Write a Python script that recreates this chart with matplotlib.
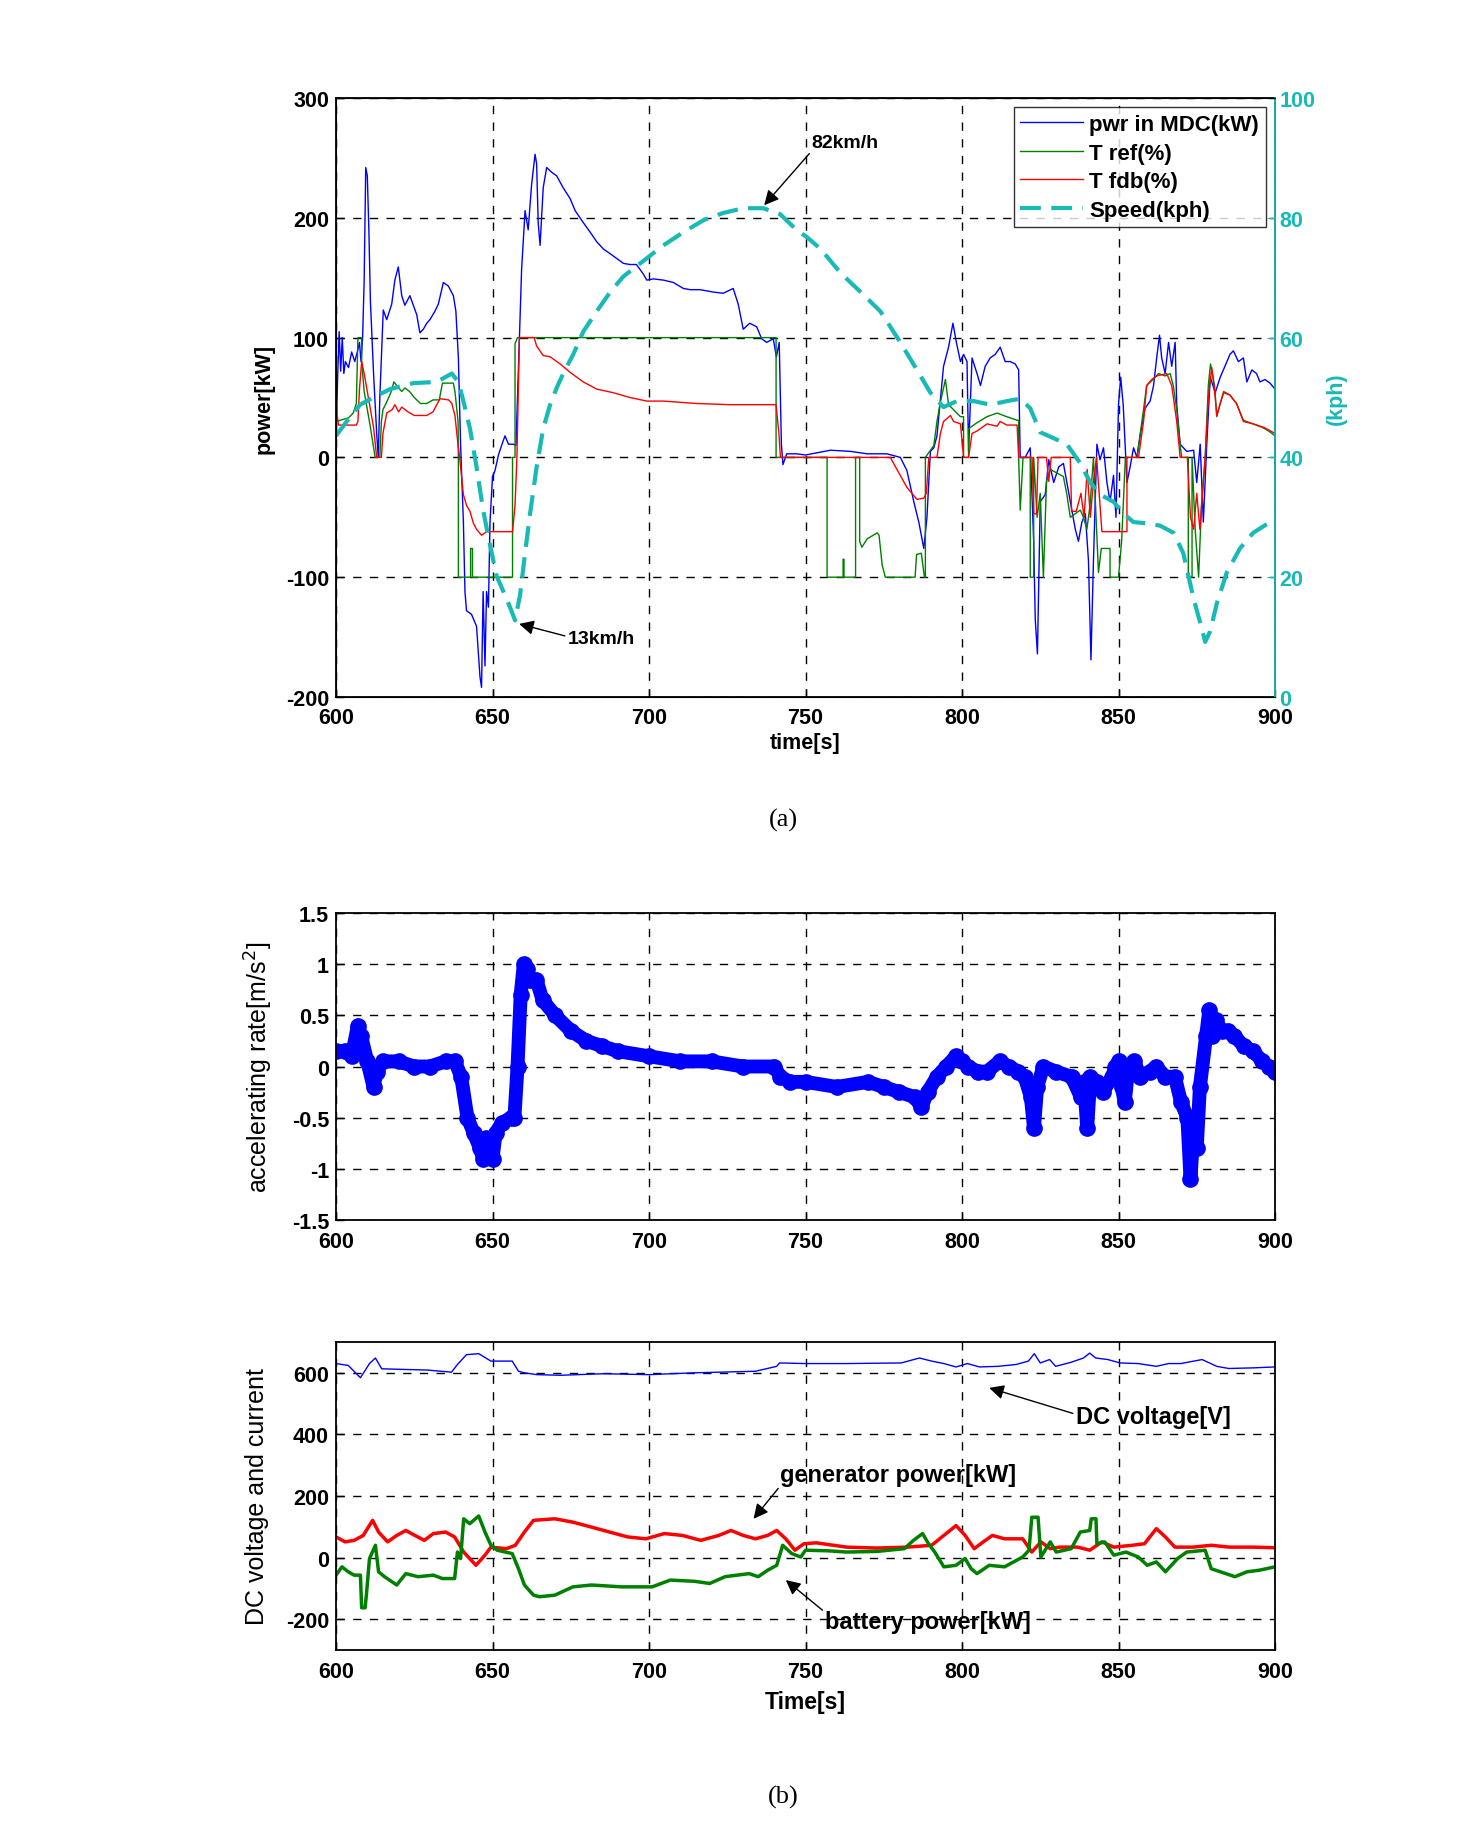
import matplotlib
matplotlib.use("Agg")
import matplotlib.pyplot as plt

plt.rcParams['font.family'] = ['Liberation Sans', 'DejaVu Sans']
plt.rcParams['axes.unicode_minus'] = False

# ================= data: panel (a) — (time [s], value) pairs =================
pwr_pts = [(600, 10), (600.5, 65), (601, 105), (601.5, 72), (602, 100), (602.5, 70), (603, 80), (604, 75),
           (605, 88), (606, 80), (607, 90), (607.5, 96), (608, 80), (608.5, 100), (609, 148), (609.5, 242),
           (610, 235), (610.5, 190), (611, 130), (612, 70), (613, 20), (613.5, 0), (614, 50), (615.1, 123),
           (616.2, 115), (617.8, 128), (618.8, 148), (619.9, 159), (621, 135), (622, 127), (623.6, 135),
           (624.7, 127), (625.8, 119), (626.8, 104), (627.9, 107), (629, 112), (630, 115), (631.6, 122),
           (632.7, 128), (634.3, 146), (635.9, 143), (637.5, 135), (638.3, 122), (639.1, 83), (639.8, 11),
           (640.7, -54), (641.2, -112), (641.7, -128), (643.3, -131), (644.9, -141), (646, -183), (646.5, -192),
           (647, -112), (647.6, -174), (648.1, -112), (648.7, -125), (649.2, -54), (650, -16), (650.8, -11),
           (651.9, 2), (652.9, 10), (654, 18), (655.1, 11), (656.7, 11), (657.5, 10), (658.3, 76), (659.3, 157),
           (660.4, 206), (661.4, 190), (662.5, 228), (663.6, 253), (664.1, 245), (664.6, 196), (665.2, 177),
           (666.2, 225), (667.3, 242), (668.9, 238), (670.5, 235), (672.6, 225), (674.8, 216), (676.4, 206),
           (679, 196), (681.2, 188), (683.3, 180), (685.4, 174), (687.6, 170), (689.7, 166), (691.8, 162),
           (693.9, 161), (696, 161), (698.2, 153), (699.3, 148), (701.4, 149), (704.6, 148), (707.8, 146),
           (711, 141), (713.2, 140), (716.3, 140), (720.6, 138), (723.7, 137), (726.9, 141), (728.5, 128),
           (730.1, 107), (732.2, 112), (734.4, 109), (736, 99), (737.6, 96), (739.7, 99), (740.7, 84),
           (741.6, 96), (742.3, 11), (742.8, -6), (744, 3), (747.1, 3), (750, 2), (758, 6), (764.4, 5),
           (769.7, 3), (776, 3), (780.3, 0), (782.4, -11), (784.6, -37), (786.2, -54), (787.8, -76),
           (788.8, -50), (789.9, 5), (791, 8), (792, 18), (794.1, 76), (795.7, 92), (797.1, 112), (798.2, 96),
           (799.5, 80), (800.5, 86), (801.6, 80), (802.1, 5), (803.2, 83), (804.8, 70), (805.9, 60),
           (807.4, 76), (809, 83), (810.6, 86), (812.2, 92), (813.8, 80), (815.4, 80), (817, 78), (818.1, 73),
           (818.6, 0), (820.2, 0), (821.8, 8), (822.9, -70), (823.4, -135), (824.1, -164), (825, -37),
           (826.6, -31), (827.7, -2), (829.3, -21), (830.9, -8), (832.4, -5), (834.6, -37), (836.2, -60),
           (837.2, -70), (838.3, -54), (839.4, -47), (840.4, -86), (841.2, -169), (842, -86), (843.1, 11),
           (844.1, -2), (845.2, 8), (846.3, -21), (847.3, -37), (848.4, -15), (849.2, -50), (850, 44),
           (850.7, 67), (851.5, 44), (852.7, -21), (853.7, -8), (854.8, 8), (855.9, 0), (856.9, 18),
           (858.5, 41), (860.1, 47), (861.2, 60), (862.2, 83), (863.1, 102), (863.8, 83), (864.9, 70),
           (866, 96), (867, 76), (868.1, 96), (868.6, 44), (869.7, 11), (871.8, 5), (874, 6), (875, -21),
           (876.1, 11), (877.1, -54), (878.2, 11), (879.3, 67), (880.9, 54), (882.5, 67), (884, 76),
           (885.6, 86), (886.7, 89), (888.3, 80), (889.9, 83), (891, 63), (892.6, 73), (894.1, 70),
           (895.2, 63), (896.8, 65), (898.4, 62), (900, 57)]

tref_pts = [(600, 30), (604, 33), (605.5, 37), (606.5, 45), (607, 100), (608.2, 100), (608.2, 80), (609, 55),
            (610, 40), (611, 25), (612.5, 0), (614, 0), (614.5, 30), (615, 40), (616, 45), (617.5, 54),
            (618.5, 63), (620, 58), (621, 55), (622, 58), (623.5, 55), (625, 50), (627, 45), (629, 45), (631, 48),
            (633, 48), (634, 62), (636, 62), (637.5, 62), (638, 55), (639, 30), (639.1, 0), (639.1, -100),
            (643, -100), (643, -76), (643.6, -76), (643.6, -100), (656.4, -100), (656.4, 0), (657.2, 0),
            (657.2, 95), (658, 100), (740.6, 100), (740.6, 0), (756.9, 0), (756.9, -100), (762, -100),
            (762, -85), (762.3, -85), (762.3, -100), (766, -100), (766, 0), (767.3, 0), (767.3, -70),
            (768, -75), (769.7, -68), (772.9, -63), (773.5, -65), (774.5, -90), (775.5, -100), (785, -100),
            (785.5, -81), (787, -80), (788, -100), (788.3, -100), (788.3, 0), (791, 10), (792, 30), (793, 45),
            (794.7, 65), (795.7, 44), (799.5, 34), (800.5, 34), (800.5, 0), (802.1, 0), (802.1, 24),
            (804.8, 29), (808, 34), (811.2, 37), (814.3, 34), (817.6, 31), (818.1, 31), (818.1, 0),
            (818.6, -44), (819.5, 0), (821.8, 0), (821.8, -100), (822.9, -100), (822.9, 0), (824, -50),
            (825, -30), (826, -100), (827, -20), (828.2, -10), (832.4, -16), (833.5, -31), (834.6, -50),
            (837.8, -44), (838.8, -50), (839.9, -60), (840.9, -40), (842, 0), (843.6, -96), (844.5, -76),
            (847.3, -76), (847.3, -100), (850, -100), (851, -70), (852.2, 0), (855.9, 0), (858, 40), (859, 60),
            (861, 65), (862.8, 70), (864.9, 68), (866.5, 70), (867.5, 60), (868.6, 40), (869.7, 10),
            (870.2, 0), (872.3, 0), (872.3, -100), (873.5, -100), (873.5, 0), (874.5, -60), (875.6, -100),
            (876.5, -40), (877.7, 0), (878.7, 60), (879.4, 78), (880.7, 60), (881.4, 34), (882.5, 45),
            (883.6, 54), (885.6, 52), (887.7, 45), (889.9, 31), (893, 28), (896, 25), (898, 22), (900, 18)]

tfdb_pts = [(600, 42), (600.8, 27), (602, 27), (606.5, 27), (607, 30), (607.5, 57), (608.2, 80), (609, 70),
            (610, 55), (611, 40), (612, 25), (613, 0), (614.5, 0), (615, 20), (616.2, 37), (618, 40), (618.8, 44),
            (620, 38), (621, 42), (623, 38), (625, 35), (627, 35), (629, 35), (631, 38), (633.2, 49), (636, 48),
            (637, 45), (638, 35), (639, 10), (639.5, 0), (640.7, -31), (641.7, -40), (642.8, -45), (643.9, -55),
            (644.9, -60), (646.5, -65), (648.1, -62), (649.2, -62), (656.4, -62), (657.2, -40), (657.8, 0),
            (658.6, 100), (663.3, 100), (664.1, 93), (666.2, 85), (668.4, 84), (671.6, 78), (674.8, 71),
            (679, 63), (683.3, 57), (688.6, 54), (693.9, 50), (699.3, 47), (704.6, 47), (715.2, 45),
            (725.9, 44), (740.6, 44), (741.5, 20), (742, 0), (777.1, 0), (779.2, -10), (782.4, -25),
            (785.6, -35), (787.8, -34), (788.6, -30), (789.4, 0), (792, 0), (793.1, 20), (794.1, 30),
            (796.3, 35), (797.3, 30), (799.5, 28), (800.5, 0), (802.1, 0), (803.2, 20), (804.8, 22), (808, 28),
            (811.2, 26), (812.2, 30), (814.3, 27), (817.6, 27), (818.1, 0), (822.4, 0), (822.9, -47),
            (823.8, -47), (824.3, 0), (827, 0), (827.7, -20), (828.5, 0), (834.6, 0), (835, -45), (836.5, -45),
            (838, -30), (839, -50), (840, -10), (841, -50), (842, -20), (843, 0), (844.7, -62), (852.7, -62),
            (852.7, 0), (856.4, 0), (858, 30), (859, 60), (860.6, 65), (862.2, 68), (865.4, 70), (867, 60),
            (868.6, 30), (869.7, 0), (872, 0), (873, -50), (874, -60), (875, -30), (876, -60), (877.7, 0),
            (878.7, 50), (879.8, 75), (880.9, 50), (881.4, 35), (882.5, 45), (883.6, 55), (885.6, 52),
            (887.7, 45), (889.9, 30), (893, 28), (896.5, 25), (900, 20)]

spd_pts = [(600, 43.6), (603.4, 46), (607.7, 48.8), (611.9, 50), (617.3, 51.4), (624.7, 52.4), (632.2, 52.6),
           (637, 54), (639.1, 52.6), (640.7, 49.4), (642.8, 44.8), (644.9, 38.4), (647, 31.2), (649.2, 25.4),
           (651.3, 20.2), (653.5, 17.6), (655.6, 15), (657.2, 12.8), (658.8, 17), (660.4, 24), (662, 30.6),
           (664.1, 38.4), (666.2, 44.8), (668.4, 48.8), (670.5, 51.6), (672.6, 54), (675.8, 57.2), (679, 61),
           (683.3, 64.4), (687.6, 67.6), (691.8, 70.2), (698.2, 72.8), (704.6, 75.4), (711, 77.6),
           (717.4, 79.6), (723.7, 80.8), (730.1, 81.6), (736.5, 81.6), (741.9, 80.6), (747.1, 78),
           (750.4, 76.8), (754.8, 74.8), (761.2, 70.8), (767.6, 67.6), (773.9, 64.4), (780.3, 59.2),
           (785.6, 54.6), (789.9, 50.8), (794.1, 48.4), (798.4, 49.4), (803.7, 49.4), (809, 48.8),
           (814.4, 49.4), (818.6, 49.8), (821.8, 48.2), (825, 44.2), (829.3, 43.2), (833.5, 42.2),
           (837.8, 39), (841, 35.8), (844.1, 33.8), (848.4, 32.6), (851.6, 30.6), (854.8, 29.2), (859, 29),
           (863.3, 28.6), (867.6, 27.4), (870.7, 24), (874, 16.4), (876.1, 12.4), (877.7, 9.2), (879.3, 11),
           (881.4, 15.6), (884.6, 20.8), (888.8, 24.8), (893, 27.4), (898.4, 29.2), (900, 29.6)]

# ================= data: acceleration [m/s^2] =================
acc_pts = [(600, 0.15), (603, 0.15), (605, 0.1), (607, 0.4), (608, 0.3), (610, 0.05), (612, -0.2), (613, -0.05),
           (615, 0.05), (620, 0.05), (625, 0.0), (630, 0.0), (635, 0.05), (638, 0.05), (640, -0.1), (642, -0.5),
           (644, -0.65), (646, -0.8), (647, -0.9), (648, -0.7), (649, -0.85), (650, -0.9), (651, -0.65),
           (653, -0.55), (656, -0.5), (657, -0.5), (658, 0.0), (659, 0.7), (660, 1.0), (661, 0.95), (662, 0.85),
           (664, 0.85), (666, 0.65), (670, 0.5), (675, 0.35), (680, 0.25), (685, 0.2), (690, 0.15), (700, 0.1),
           (710, 0.05), (720, 0.05), (730, 0.0), (740, 0.0), (742, -0.1), (745, -0.15), (750, -0.15),
           (760, -0.2), (770, -0.15), (775, -0.2), (780, -0.25), (785, -0.3), (787, -0.4), (789, -0.25),
           (792, -0.1), (795, 0.0), (798, 0.1), (800, 0.05), (802, 0.0), (805, -0.05), (808, -0.05),
           (812, 0.05), (815, 0.0), (818, -0.05), (820, -0.1), (822, -0.3), (823, -0.6), (824, -0.2),
           (826, 0.0), (830, -0.05), (835, -0.1), (838, -0.3), (839, -0.15), (840, -0.6), (841, -0.1),
           (843, -0.15), (845, -0.25), (848, -0.1), (849, 0.0), (850, 0.05), (851, -0.2), (852, -0.35),
           (853, -0.05), (855, 0.05), (857, -0.1), (860, -0.05), (862, 0.0), (865, -0.1), (868, -0.1),
           (870, -0.35), (872, -0.5), (873, -1.1), (874, -0.6), (875, -0.8), (876, -0.2), (878, 0.3),
           (879, 0.55), (880, 0.3), (881, 0.45), (883, 0.35), (885, 0.35), (887, 0.3), (890, 0.2),
           (893, 0.15), (896, 0.05), (898, 0.0), (900, -0.05)]

# ================= data: DC bus =================
dcv_pts = [(600, 630), (603.9, 624), (607.8, 584), (610.7, 630), (612.6, 648), (614.6, 613), (621.4, 611),
           (629.1, 609), (636.9, 602), (638.8, 627), (641.7, 659), (645.6, 662), (649.5, 638), (656.3, 638),
           (658.3, 605), (660.2, 600), (664.1, 594), (671.8, 592), (685.4, 597), (700, 594), (714.6, 600),
           (734, 605), (740.8, 621), (741.7, 632), (750, 630), (763.1, 630), (780.6, 632), (786.4, 648),
           (790.3, 638), (794.2, 630), (798.1, 619), (801.7, 630), (805.6, 619), (811.5, 621), (817.3, 627),
           (821.2, 638), (823.1, 662), (825, 632), (828, 643), (829.9, 621), (834.8, 634), (838.8, 648),
           (840.8, 664), (842.7, 648), (846.6, 643), (850.5, 632), (856.3, 630), (862.1, 621), (866, 630),
           (869.9, 630), (876.7, 643), (881.4, 621), (885.2, 614), (893, 616), (900, 619)]

gen_pts = [(600, 67), (602.9, 51), (605.8, 56), (608.7, 72), (611.7, 121), (613.6, 83), (616.5, 51), (619.4, 72),
           (622.3, 88), (625.2, 72), (628.2, 56), (631.1, 78), (635, 83), (637.9, 67), (640.8, 18),
           (644.7, -25), (647.6, 8), (649.5, 34), (654.4, 29), (657.3, 40), (660.2, 83), (663.1, 121),
           (669.9, 126), (675.7, 115), (681.6, 99), (687.4, 83), (693.2, 67), (699, 61), (704.9, 78),
           (710.7, 72), (716.5, 56), (722.3, 72), (726.2, 88), (730.1, 72), (734, 61), (737.9, 72), (740.8, 88),
           (743.7, 61), (746.6, 24), (749.5, 45), (753.4, 48), (763.1, 34), (772.8, 31), (782.5, 34),
           (790.3, 40), (794.2, 72), (798.1, 104), (801, 72), (803.9, 29), (806.8, 51), (809.7, 72),
           (813.6, 61), (819.4, 61), (822.3, 18), (825.2, 51), (828.2, 29), (831.1, 34), (836.9, 34),
           (840.8, 24), (844.7, 51), (848.5, 34), (854.4, 40), (858.3, 45), (862.1, 94), (865, 67), (868, 34),
           (873.8, 34), (879.6, 40), (885.4, 34), (893, 34), (900, 32)]

bat_pts = [(600, -57), (601.9, -30), (603.9, -46), (605.8, -57), (607.8, -57), (608.2, -163), (609.3, -163),
           (609.7, -122), (610.7, -3), (612.6, 40), (613.6, -46), (615.5, -62), (619.4, -89), (622.3, -52),
           (626.2, -62), (631.1, -57), (634, -68), (637.9, -68), (638.8, 18), (639.8, -3), (640.8, 126),
           (642.7, 110), (645.6, 135), (647.6, 83), (649.5, 40), (651.5, 24), (656.3, 13), (658.3, -36),
           (660.2, -89), (663.1, -122), (665, -127), (669.9, -122), (675.7, -95), (681.6, -89), (691.3, -95),
           (701, -95), (706.8, -73), (714.6, -77), (719.4, -84), (724.3, -62), (732, -52), (734.9, -62),
           (737.9, -41), (740.8, -25), (742.7, 40), (745.6, 13), (748.5, 2), (750, 24), (757.4, 22),
           (763.1, 18), (772.8, 20), (781.6, 29), (784.5, 56), (787.4, 78), (789.3, 45), (791.3, 18),
           (794.2, -30), (798.1, -25), (801, -3), (802.9, -36), (804.8, -52), (808.7, -25), (813.6, -30),
           (819.4, 2), (821.4, 24), (822.3, 131), (824.3, 131), (825.2, 2), (828.2, 51), (830.1, 18),
           (834.9, 29), (837.8, 83), (840.8, 88), (841.3, 126), (842.8, 126), (843.1, 45), (845.6, 51),
           (848.5, 8), (852.4, 18), (856.3, 2), (859.2, -25), (862.1, -14), (865, -46), (868.9, -3),
           (871.8, 18), (877.7, 24), (879.6, -36), (884.3, -52), (887.2, -62), (891.1, -46), (895, -41),
           (900, -30)]

# ---------------- helpers ----------------
def xy(pts):
    return [p[0] for p in pts], [p[1] for p in pts]

fig = plt.figure(figsize=(14.69, 18.24), dpi=100)
W, H = 1469, 1824
def rect(l, t, r, b):
    return [l / W, 1 - b / H, (r - l) / W, (b - t) / H]

CYAN = '#17BAB6'
FS = 15.5
gridkw = dict(color='black', linestyle=(0, (6, 6)), linewidth=1.0)

def style(ax, xpad=2):
    ax.tick_params(direction='in', length=6, width=1, labelsize=FS)
    ax.tick_params(axis='x', pad=xpad)
    ax.tick_params(axis='y', pad=5)
    for lab in ax.get_xticklabels() + ax.get_yticklabels():
        lab.set_fontweight('bold')
    for s in ax.spines.values():
        s.set_linewidth(1.3)
    ax.grid(True, **gridkw)

# ---- panel (a) ----
ax1 = fig.add_axes(rect(336, 99, 1275, 698))
l1, = ax1.plot(*xy(pwr_pts), color='#0000FF', lw=1.0, label='pwr in MDC(kW)')
l2, = ax1.plot(*xy(tref_pts), color='#008000', lw=1.0, label='T ref(%)')
l3, = ax1.plot(*xy(tfdb_pts), color='#FF0000', lw=1.0, label='T fdb(%)')
ax1.set_xlim(600, 900)
ax1.set_ylim(-200, 300)
ax1.set_xticks(range(600, 901, 50))
ax1.set_yticks(range(-200, 301, 100))
ax1.set_xlabel('time[s]', fontsize=FS, fontweight='bold', labelpad=3)
ax1.set_ylabel('power[kW]', fontsize=FS, fontweight='bold', labelpad=8)
style(ax1, xpad=7)

ax2 = ax1.twinx()
l4, = ax2.plot(*xy(spd_pts), color=CYAN, lw=3.0, linestyle=(0, (5, 2.5)), label='Speed(kph)')
ax2.set_ylim(0, 100)
ax2.set_yticks(range(0, 101, 20))
ax2.tick_params(axis='y', direction='in', length=6, colors=CYAN, labelsize=FS, pad=3)
for lab in ax2.get_yticklabels():
    lab.set_fontweight('bold')
ax2.spines['right'].set_color(CYAN)
ax2.spines['right'].set_linewidth(1.3)
ax2.set_ylabel('(kph)', color=CYAN, fontsize=FS, fontweight='bold', labelpad=8)

leg = ax2.legend(handles=[l1, l2, l3, l4], loc='upper right', bbox_to_anchor=(0.990, 0.9845),
                 prop=dict(size=16, weight='bold'), frameon=True, fancybox=False, handlelength=2.8,
                 borderpad=0.3, labelspacing=0.34, handletextpad=0.3, borderaxespad=0)
leg.get_frame().set_edgecolor('black')
leg.get_frame().set_linewidth(1.0)

NARROW = ['Liberation Sans Narrow', 'Liberation Sans', 'DejaVu Sans']
arrowkw = dict(arrowstyle='-|>', color='black', lw=1.0, mutation_scale=22, shrinkA=0, shrinkB=0)
ax2.annotate('82km/h', xy=(736.8, 82.1), xytext=(752, 92.6), fontsize=14, fontweight='bold', family=NARROW,
             va='center', ha='left', arrowprops=dict(relpos=(0, 0.0), **arrowkw))
ax2.annotate('13km/h', xy=(658.5, 12.2), xytext=(674, 9.8), fontsize=14, fontweight='bold', family=NARROW,
             va='center', ha='left', arrowprops=dict(relpos=(0, 0.6), **arrowkw))

fig.text(783 / W, 1 - 820 / H, '(a)', fontsize=19, family=['Liberation Serif', 'DejaVu Serif'],
         ha='center', va='center')

# ---- acceleration panel ----
ax3 = fig.add_axes(rect(336, 914, 1275, 1221))
ax3.plot(*xy(acc_pts), color='#0000FF', lw=10, solid_capstyle='round', solid_joinstyle='round',
         marker='o', markersize=11)
ax3.set_xlim(600, 900)
ax3.set_ylim(-1.5, 1.5)
ax3.set_xticks(range(600, 901, 50))
ax3.set_yticks([-1.5, -1, -0.5, 0, 0.5, 1, 1.5])
ax3.set_yticklabels(['-1.5', '-1', '-0.5', '0', '0.5', '1', '1.5'])
ax3.set_ylabel('accelerating rate[m/s$^2$]', fontsize=18, labelpad=12)
style(ax3, xpad=8)

# ---- DC bus panel ----
ax4 = fig.add_axes(rect(336, 1343, 1275, 1651))
ax4.plot(*xy(dcv_pts), color='#0000FF', lw=1.0)
ax4.plot(*xy(gen_pts), color='#FF0000', lw=2.5)
ax4.plot(*xy(bat_pts), color='#008000', lw=2.5)
ax4.set_xlim(600, 900)
ax4.set_ylim(-300, 700)
ax4.set_xticks(range(600, 901, 50))
ax4.set_yticks(range(-200, 601, 200))
ax4.set_xlabel('Time[s]', fontsize=FS + 1, fontweight='bold', labelpad=6)
ax4.set_ylabel('DC voltage and current', fontsize=18, labelpad=12)
style(ax4, xpad=8)

ax4.annotate('DC voltage[V]', xy=(808.7, 551), xytext=(836.3, 458), fontsize=17, fontweight='bold',
             family=NARROW, va='center', ha='left', arrowprops=dict(relpos=(0, 0.6), **arrowkw))
ax4.annotate('generator power[kW]', xy=(733.4, 126), xytext=(742, 271), fontsize=17, fontweight='bold',
             family=NARROW, va='center', ha='left', arrowprops=dict(relpos=(0, 0.0), **arrowkw))
ax4.annotate('battery power[kW]', xy=(743.7, -73), xytext=(756.3, -208), fontsize=17, fontweight='bold',
             family=NARROW, va='center', ha='left', arrowprops=dict(relpos=(0, 0.9), **arrowkw))

fig.text(783 / W, 1 - 1797 / H, '(b)', fontsize=19, family=['Liberation Serif', 'DejaVu Serif'],
         ha='center', va='center')

fig.savefig('out.png', dpi=100)
